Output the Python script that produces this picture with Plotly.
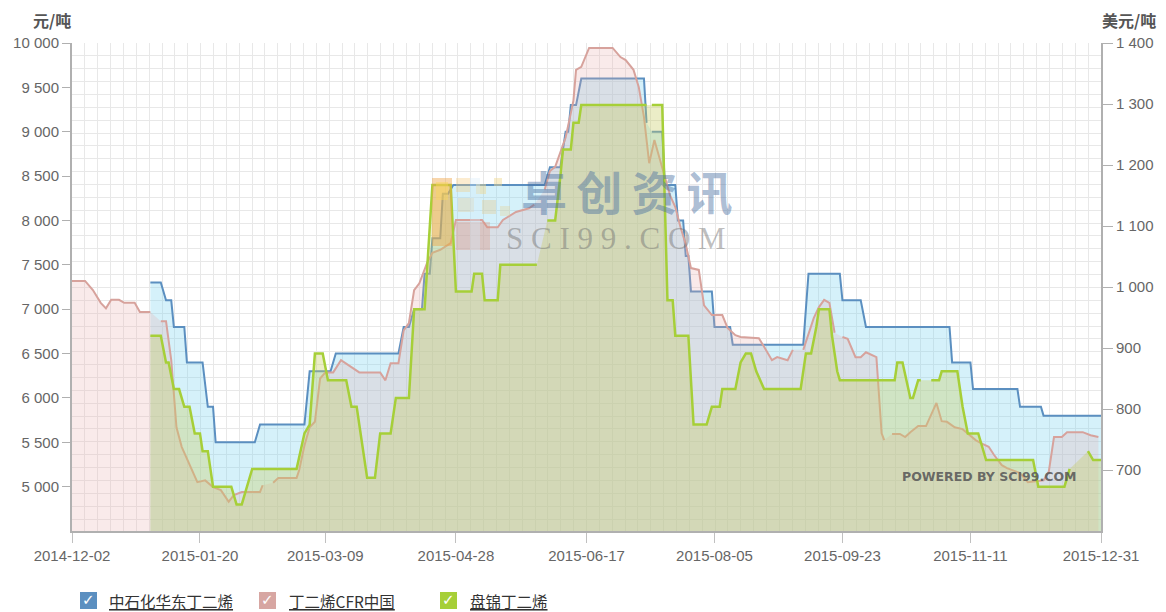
import plotly.graph_objects as go

# ---------------- data ----------------
X_TICKS = ["2014-12-02", "2015-01-20", "2015-03-09", "2015-04-28", "2015-06-17",
           "2015-08-05", "2015-09-23", "2015-11-11", "2015-12-31"]
LEFT_TICKS = [5000, 5500, 6000, 6500, 7000, 7500, 8000, 8500, 9000, 9500, 10000]
LEFT_TICK_TEXT = ["5 000", "5 500", "6 000", "6 500", "7 000", "7 500", "8 000",
                  "8 500", "9 000", "9 500", "10 000"]
RIGHT_TICKS = [700, 800, 900, 1000, 1100, 1200, 1300, 1400]
RIGHT_TICK_TEXT = ["700", "800", "900", "1 000", "1 100", "1 200", "1 300", "1 400"]

SERIES_NAMES = ["中石化华东丁二烯", "丁二烯CFR中国", "盘锦丁二烯"]

# 中石化华东丁二烯 (元/吨, left axis)
blue_dates = ["2015-01-01", "2015-01-05", "2015-01-07", "2015-01-09", "2015-01-10", "2015-01-14",
              "2015-01-15", "2015-01-21", "2015-01-23", "2015-01-25", "2015-01-26", "2015-02-10",
              "2015-02-12", "2015-03-01", "2015-03-03", "2015-03-11", "2015-03-13", "2015-04-06",
              "2015-04-08", "2015-04-10", "2015-04-12", "2015-04-15", "2015-04-16", "2015-04-18",
              "2015-04-19", "2015-04-22", "2015-04-23", "2015-04-25", "2015-04-27", "2015-06-01",
              "2015-06-03", "2015-06-07", "2015-06-09", "2015-06-10", "2015-06-11", "2015-06-13",
              "2015-06-15", "2015-07-09", "2015-07-10", "2015-07-11", "2015-07-12", "2015-07-16",
              "2015-07-17", "2015-07-21", "2015-07-22", "2015-07-24", "2015-07-25", "2015-07-26",
              "2015-07-27", "2015-08-04", "2015-08-05", "2015-08-11", "2015-08-12", "2015-09-08",
              "2015-09-10", "2015-09-22", "2015-09-23", "2015-09-30", "2015-10-02", "2015-11-03",
              "2015-11-04", "2015-11-11", "2015-11-12", "2015-11-29", "2015-11-30", "2015-12-08",
              "2015-12-09", "2015-12-31"]
blue_values = [7300, 7300, 7100, 7100, 6800, 6800,
               6400, 6400, 5900, 5900, 5500, 5500,
               5700, 5700, 6300, 6300, 6500, 6500,
               6800, 6800, 7000, 7000, 7400, 7400,
               7800, 7800, 8300, 8300, 8400, 8400,
               8600, 8600, 9000, 9000, 9300, 9300,
               9600, 9600, 9100, None, 9000, 9000,
               8400, 8400, 8000, 8000, 7600, 7600,
               7200, 7200, 6800, 6800, 6600, 6600,
               7400, 7400, 7100, 7100, 6800, 6800,
               6400, 6400, 6100, 6100, 5900, 5900,
               5800, 5800]

# 丁二烯CFR中国 (美元/吨, right axis)
pink_dates = ["2014-12-02", "2014-12-07", "2014-12-10", "2014-12-13", "2014-12-15", "2014-12-17",
              "2014-12-20", "2014-12-22", "2014-12-26", "2014-12-28", "2015-01-01", "2015-01-03",
              "2015-01-05", "2015-01-07", "2015-01-09", "2015-01-11", "2015-01-13", "2015-01-17",
              "2015-01-19", "2015-01-22", "2015-01-25", "2015-01-28", "2015-01-31", "2015-02-02",
              "2015-02-05", "2015-02-12", "2015-02-13", "2015-02-15", "2015-02-17", "2015-02-19",
              "2015-02-26", "2015-02-27", "2015-03-01", "2015-03-03", "2015-03-05", "2015-03-07",
              "2015-03-09", "2015-03-12", "2015-03-15", "2015-03-18", "2015-03-22", "2015-03-30",
              "2015-04-01", "2015-04-03", "2015-04-06", "2015-04-08", "2015-04-10", "2015-04-12",
              "2015-04-14", "2015-04-17", "2015-04-19", "2015-04-22", "2015-04-26", "2015-04-28",
              "2015-05-08", "2015-05-10", "2015-05-14", "2015-05-16", "2015-05-21", "2015-05-26",
              "2015-05-28", "2015-05-30", "2015-06-01", "2015-06-03", "2015-06-05", "2015-06-07",
              "2015-06-09", "2015-06-11", "2015-06-12", "2015-06-13", "2015-06-15", "2015-06-18",
              "2015-06-27", "2015-06-30", "2015-07-02", "2015-07-05", "2015-07-07", "2015-07-09",
              "2015-07-11", "2015-07-13", "2015-07-15", "2015-07-17", "2015-07-19", "2015-07-21",
              "2015-07-23", "2015-07-25", "2015-07-27", "2015-07-30", "2015-08-01", "2015-08-04",
              "2015-08-08", "2015-08-10", "2015-08-13", "2015-08-15", "2015-08-22", "2015-08-24",
              "2015-08-27", "2015-08-29", "2015-09-02", "2015-09-04", "2015-09-06", "2015-09-08",
              "2015-09-10", "2015-09-12", "2015-09-14", "2015-09-16", "2015-09-18", "2015-09-20",
              "2015-09-21", "2015-09-23", "2015-09-25", "2015-09-28", "2015-09-30", "2015-10-02",
              "2015-10-06", "2015-10-08", "2015-10-09", "2015-10-10", "2015-10-12", "2015-10-15",
              "2015-10-17", "2015-10-19", "2015-10-22", "2015-10-25", "2015-10-29", "2015-10-31",
              "2015-11-02", "2015-11-05", "2015-11-08", "2015-11-10", "2015-11-13", "2015-11-15",
              "2015-11-18", "2015-11-20", "2015-11-23", "2015-11-25", "2015-11-30", "2015-12-03",
              "2015-12-09", "2015-12-11", "2015-12-13", "2015-12-16", "2015-12-18", "2015-12-24",
              "2015-12-27", "2015-12-30"]
pink_values = [1010, 1010, 995, 974, 965, 979,
               979, 974, 974, 959, 959, None,
               944, 944, 880, 770, 738, 700,
               680, 683, 672, 667, 648, 659,
               664, 664, 675, None, 679, 687,
               687, 700, 740, 770, 779, 850,
               860, 860, 880, 872, 860, 860,
               847, 875, 875, 929, 941, 995,
               1006, 1040, 1056, 1061, 1072, 1110,
               1110, 1098, 1098, 1110, 1123, 1129,
               1135, None, 1160, 1190, 1197, 1220,
               1245, 1285, 1306, 1356, 1361, 1392,
               1392, 1377, 1372, 1356, 1328, 1279,
               1203, 1241, 1210, 1180, 1150, 1131,
               1098, 1070, 1031, 1028, 970, 954,
               954, 933, 921, 918, 916, 902,
               880, 885, 880, 897, None, 897,
               925, 949, 967, 979, 974, 925,
               None, 918, 915, 885, 885, 893,
               885, 760, 749, None, 759, 759,
               754, 762, 772, 772, 810, 780,
               779, 770, 767, 760, 749, 744,
               738, 725, 708, 703, 695, 680,
               683, 697, 754, 754, 762, 762,
               757, 754]

# 盘锦丁二烯 (元/吨, left axis)
green_dates = ["2015-01-01", "2015-01-05", "2015-01-07", "2015-01-08", "2015-01-10", "2015-01-12",
               "2015-01-14", "2015-01-16", "2015-01-18", "2015-01-20", "2015-01-21", "2015-01-23",
               "2015-01-25", "2015-02-01", "2015-02-03", "2015-02-05", "2015-02-07", "2015-02-09",
               "2015-02-26", "2015-03-01", "2015-03-03", "2015-03-05", "2015-03-08", "2015-03-10",
               "2015-03-17", "2015-03-19", "2015-03-21", "2015-03-23", "2015-03-25", "2015-03-28",
               "2015-03-30", "2015-04-03", "2015-04-05", "2015-04-10", "2015-04-12", "2015-04-16",
               "2015-04-19", "2015-04-26", "2015-04-28", "2015-05-04", "2015-05-05", "2015-05-08",
               "2015-05-09", "2015-05-14", "2015-05-15", "2015-05-29", "2015-05-31", "2015-06-02",
               "2015-06-05", "2015-06-07", "2015-06-08", "2015-06-11", "2015-06-12", "2015-06-14",
               "2015-06-15", "2015-07-10", "2015-07-11", "2015-07-12", "2015-07-16", "2015-07-18",
               "2015-07-20", "2015-07-21", "2015-07-26", "2015-07-28", "2015-08-02", "2015-08-04",
               "2015-08-07", "2015-08-08", "2015-08-13", "2015-08-15", "2015-08-17", "2015-08-19",
               "2015-08-21", "2015-08-24", "2015-09-07", "2015-09-09", "2015-09-11", "2015-09-13",
               "2015-09-14", "2015-09-18", "2015-09-19", "2015-09-21", "2015-09-22", "2015-10-13",
               "2015-10-14", "2015-10-16", "2015-10-19", "2015-10-20", "2015-10-22", "2015-10-23",
               "2015-10-25", "2015-10-27", "2015-10-30", "2015-10-31", "2015-11-06", "2015-11-08",
               "2015-11-10", "2015-11-14", "2015-11-17", "2015-12-05", "2015-12-07", "2015-12-17",
               "2015-12-19", "2015-12-21", "2015-12-26", "2015-12-28", "2015-12-31"]
green_values = [6700, 6700, 6400, 6400, 6100, 6100,
                5900, 5900, 5600, 5600, 5400, 5400,
                5000, 5000, 4800, 4800, 5000, 5200,
                5200, 5600, 5700, 6500, 6500, 6200,
                6200, 5900, 5900, 5500, 5100, 5100,
                5600, 5600, 6000, 6000, 7000, 7000,
                8400, 8400, 7200, 7200, 7400, 7400,
                7100, 7100, 7500, 7500, None, 8000,
                8000, 8500, 8800, 8800, 9100, 9100,
                9300, 9300, None, 9300, 9300, 7100,
                7100, 6700, 6700, 5700, 5700, 5900,
                5900, 6100, 6100, 6400, 6500, 6500,
                6300, 6100, 6100, 6500, 6500, 6800,
                7000, 7000, 6700, 6300, 6200, 6200,
                6400, 6400, 6000, 6000, 6200, 6200,
                None, 6200, 6200, 6300, 6300, 5900,
                5600, 5600, 5300, 5300, 5000, 5000,
                5200, None, 5400, 5300, 5300]

# ---------------- geometry helpers (decorations only) ----------------
W, H = 1166, 612
ML, MR, MT, MB = 72, 65, 43, 81
PW, PH = W - ML - MR, H - MT - MB


def px(x):
    return (x - ML) / PW


def py(y):
    return (H - MB - y) / PH


FONT = "Liberation Sans, Arial, Noto Sans CJK SC, sans-serif"
CJK = "Noto Sans CJK SC, Liberation Sans, sans-serif"

BLUE = "#5b8fc0"
PINK = "#d7a29c"
GREEN = "#a6cf38"

fig = go.Figure()
fig.add_trace(go.Scatter(x=blue_dates, y=blue_values, name=SERIES_NAMES[0], mode="lines",
                         line=dict(color=BLUE, width=2), fill="tozeroy",
                         fillcolor="rgba(125,210,240,0.32)", connectgaps=False, yaxis="y"))
fig.add_trace(go.Scatter(x=pink_dates, y=pink_values, name=SERIES_NAMES[1], mode="lines",
                         line=dict(color=PINK, width=2), fill="tozeroy",
                         fillcolor="rgba(230,170,170,0.25)", connectgaps=False, yaxis="y2"))
fig.add_trace(go.Scatter(x=green_dates, y=green_values, name=SERIES_NAMES[2], mode="lines",
                         line=dict(color=GREEN, width=2.5), fill="tozeroy",
                         fillcolor="rgba(200,205,100,0.36)", connectgaps=False, yaxis="y3"))

shapes = []
annotations = []

# axis titles
annotations.append(dict(text="<b>元/吨</b>", x=px(52), y=py(20), xref="paper", yref="paper",
                        showarrow=False, xanchor="center", yanchor="middle",
                        font=dict(family=CJK, size=16, color="#555555")))
annotations.append(dict(text="<b>美元/吨</b>", x=px(1129), y=py(20), xref="paper", yref="paper",
                        showarrow=False, xanchor="center", yanchor="middle",
                        font=dict(family=CJK, size=16, color="#555555")))

# watermark logo blocks
logo_blocks = [
    (432, 178, 452, 246, "rgba(240,165,70,0.45)"),
    (436, 182, 448, 200, "rgba(250,215,90,0.45)"),
    (456, 178, 470, 192, "rgba(245,200,120,0.35)"),
    (476, 184, 486, 194, "rgba(240,215,140,0.45)"),
    (494, 178, 502, 186, "rgba(240,215,140,0.45)"),
    (458, 198, 474, 212, "rgba(225,200,150,0.35)"),
    (482, 200, 496, 214, "rgba(225,205,150,0.40)"),
    (500, 206, 510, 216, "rgba(230,210,150,0.35)"),
    (456, 222, 490, 250, "rgba(220,140,115,0.30)"),
    (470, 178, 480, 250, "rgba(215,235,250,0.35)"),
]
for (x0, y0, x1, y1, c) in logo_blocks:
    shapes.append(dict(type="rect", xref="paper", yref="paper", x0=px(x0), x1=px(x1),
                       y0=py(y1), y1=py(y0), fillcolor=c, line=dict(width=0), layer="above"))

annotations.append(dict(text="<b>卓\u2009创\u2009资\u2009讯</b>", x=px(627), y=py(190),
                        xref="paper", yref="paper",
                        showarrow=False, xanchor="center", yanchor="middle",
                        font=dict(family=CJK, size=46, color="rgba(70,110,160,0.45)")))
annotations.append(dict(text="S C I 9 9 . C O M", x=px(616), y=py(238), xref="paper",
                        yref="paper", showarrow=False, xanchor="center", yanchor="middle",
                        font=dict(family="Liberation Serif, DejaVu Serif, serif", size=31,
                                  color="rgba(110,110,110,0.45)")))
annotations.append(dict(text="<b>POWERED BY SCI99.COM</b>", x=px(989), y=py(476), xref="paper",
                        yref="paper", showarrow=False, xanchor="center", yanchor="middle",
                        font=dict(family="DejaVu Sans, sans-serif", size=12.5,
                                  color="rgba(90,90,90,0.9)")))

# legend with checkboxes
legend_items = [(80, 107, BLUE), (259, 287, "#d7a6a2"), (440, 468, GREEN)]
for (bx, tx, col), name in zip(legend_items, SERIES_NAMES):
    shapes.append(dict(type="rect", xref="paper", yref="paper", x0=px(bx), x1=px(bx + 17),
                       y0=py(609), y1=py(592), fillcolor=col, line=dict(width=0)))
    annotations.append(dict(text="✓", x=px(bx + 8.5), y=py(600), xref="paper", yref="paper",
                            showarrow=False, xanchor="center", yanchor="middle",
                            font=dict(family="DejaVu Sans", size=15, color="white")))
    annotations.append(dict(text="<u>" + name + "</u>", x=px(tx), y=py(601), xref="paper",
                            yref="paper", showarrow=False, xanchor="left", yanchor="middle",
                            font=dict(family=CJK, size=15.5, color="#333333")))

DAY_MS = 86400000
TICKFONT = dict(family=FONT, size=15, color="#666666")
fig.update_layout(
    width=W, height=H,
    margin=dict(l=ML, r=MR, t=MT, b=MB, pad=0),
    paper_bgcolor="white", plot_bgcolor="white",
    showlegend=False,
    font=dict(family=FONT, size=14, color="#666666"),
    shapes=shapes,
    annotations=annotations,
    xaxis=dict(type="date", range=["2014-12-02", "2015-12-31"],
               tickmode="array", tickvals=X_TICKS, ticktext=X_TICKS,
               ticks="outside", ticklen=10, tickwidth=1, tickcolor="#c0c0c0",
               showline=True, linecolor="#b0b0b0", linewidth=2,
               showgrid=False, zeroline=False, tickfont=TICKFONT,
               minor=dict(tick0="2014-12-02", dtick=4.925 * DAY_MS, showgrid=True,
                          gridcolor="#e8e8e8", gridwidth=1, ticks="")),
    yaxis=dict(range=[4500, 10000], tickmode="array", tickvals=LEFT_TICKS,
               ticktext=LEFT_TICK_TEXT, ticks="outside", ticklen=8, tickwidth=1,
               tickcolor="#b0b0b0", showline=True, linecolor="#b0b0b0", linewidth=2,
               showgrid=False, zeroline=False, tickfont=TICKFONT,
               minor=dict(tick0=10000, dtick=145, showgrid=True, gridcolor="#e8e8e8",
                          gridwidth=1, ticks="")),
    yaxis2=dict(range=[600, 1400], overlaying="y", side="right", tickmode="array",
                tickvals=RIGHT_TICKS, ticktext=RIGHT_TICK_TEXT, ticks="outside", ticklen=10,
                tickwidth=1, tickcolor="#b0b0b0", showline=True, linecolor="#b0b0b0",
                linewidth=2, showgrid=False, zeroline=False, tickfont=TICKFONT),
    yaxis3=dict(range=[4500, 10000], overlaying="y", visible=False, showgrid=False,
                zeroline=False),
)

fig.write_html("out.html", config={"displayModeBar": False},
               post_script="document.body.style.margin='0';document.body.style.padding='0';")
